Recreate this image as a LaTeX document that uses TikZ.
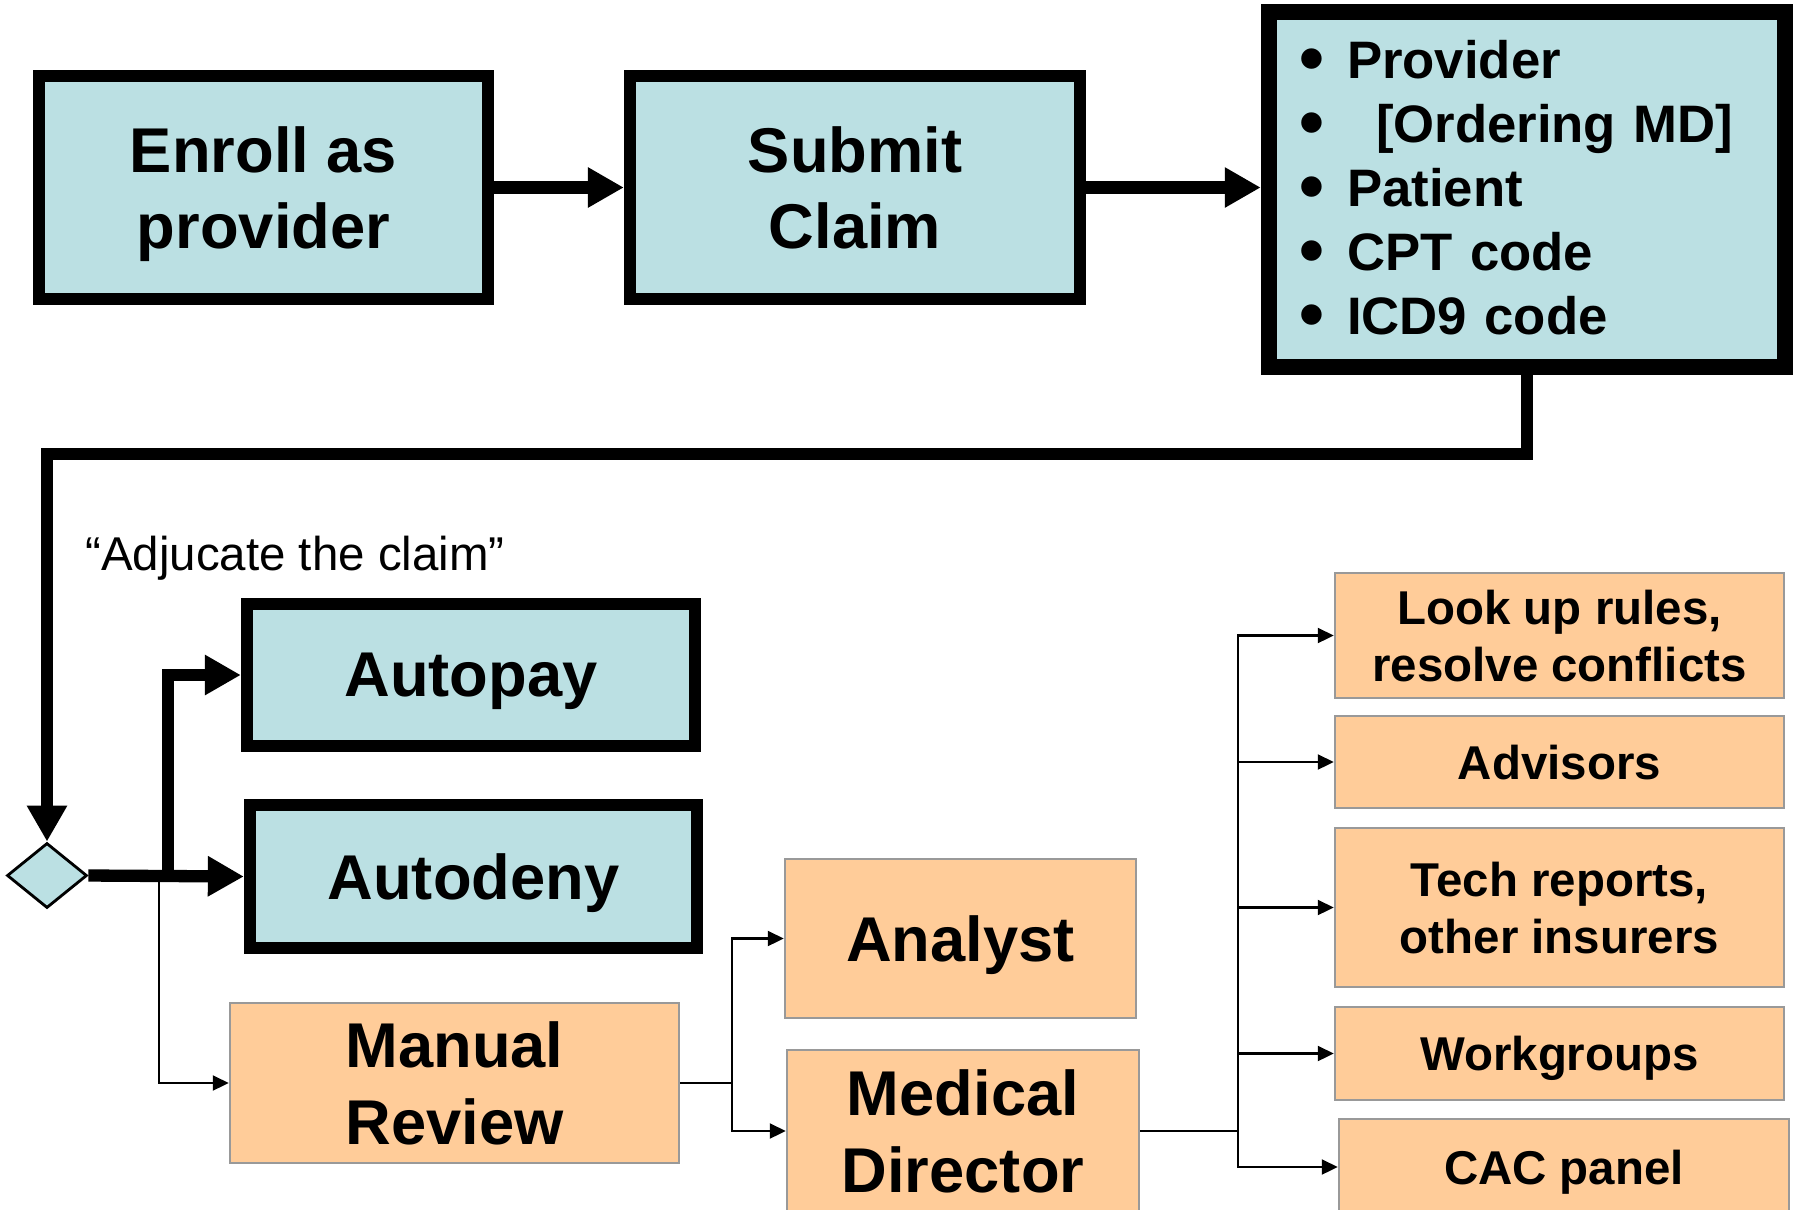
\documentclass[tikz,border=0pt]{standalone}
\usepackage{fontspec}
\setmainfont{Liberation Sans}
\usetikzlibrary{arrows.meta,shapes.geometric}

\definecolor{boxblue}{HTML}{BBE0E3}
\definecolor{boxpeach}{HTML}{FFCC99}

\newcommand{\bigbullet}{\makebox[0.48cm][l]{\raisebox{-1pt}{\scalebox{1.35}{\textbullet}}}}

\begin{document}
\begin{tikzpicture}[
        bluebox/.style={draw, line width=3.5pt, fill=boxblue, align=center, inner sep=0pt, text depth=0pt,
            font=\fontsize{18}{21.8}\selectfont\bfseries},
        peachbox/.style={draw=black!40, line width=0.7pt, fill=boxpeach, align=center, inner sep=0pt, text depth=0pt},
        bigfont/.style={font=\fontsize{18}{21.8}\selectfont\bfseries},
        smallfont/.style={font=\fontsize{13.5}{16.3}\selectfont\bfseries},
        thickflow/.style={line width=3.5pt, -{Triangle[length=0.36cm,width=0.38cm]}},
        thinflow/.style={line width=0.6pt, -{Triangle[length=0.16cm,width=0.15cm]}}
    ]
        \useasboundingbox (0,0) rectangle (17.98,-12.09);

        % top row
        \node[bluebox, minimum width=4.49cm, minimum height=2.23cm] at (2.635, -1.875)(enroll){Enroll as\\provider};
        \node[bluebox, minimum width=4.50cm, minimum height=2.23cm] at (8.55, -1.875)(submit){Submit\\Claim};
        \node[bluebox, line width=4.7pt, minimum width=5.16cm, minimum height=3.55cm, align=left, text depth=,
            text width=4.56cm, inner xsep=0.30cm, font=\fontsize{15}{18.2}\selectfont\bfseries]
            at (15.27, -1.895)(claim){%
            \bigbullet Provider\\
            \bigbullet\hspace{0.29cm}[Ordering MD]\\
            \bigbullet Patient\\
            \bigbullet CPT code\\
            \bigbullet ICD9 code};

        % adjudication
        \node[font=\fontsize{13.5}{16}\selectfont] at (2.95, -5.58)(caption){“Adjucate the claim”};
        \node[diamond, draw, line width=0.8pt, fill=boxblue, inner sep=0pt,
            minimum width=0.80cm, minimum height=0.65cm] at (0.47, -8.755)(decide){};
        \node[bluebox, minimum width=4.48cm, minimum height=1.42cm] at (4.71, -6.75)(autopay){Autopay};
        \node[bluebox, minimum width=4.47cm, minimum height=1.43cm] at (4.735, -8.765)(autodeny){Autodeny};
        \node[peachbox, bigfont, minimum width=4.49cm, minimum height=1.60cm] at (4.545, -10.83)(manual){Manual\\Review};
        \node[peachbox, bigfont, minimum width=3.51cm, minimum height=1.59cm] at (9.605, -9.385)(analyst){Analyst};
        \node[peachbox, bigfont, minimum width=3.52cm, minimum height=1.62cm] at (9.63, -11.31)(director){Medical\\Director};

        % resources
        \node[peachbox, smallfont, minimum width=4.49cm, minimum height=1.25cm] at (15.595, -6.355)(rules){Look up rules,\\resolve conflicts};
        \node[peachbox, smallfont, minimum width=4.49cm, minimum height=0.92cm] at (15.595, -7.62)(advisors){Advisors};
        \node[peachbox, smallfont, minimum width=4.49cm, minimum height=1.59cm] at (15.595, -9.075)(tech){Tech reports,\\other insurers};
        \node[peachbox, smallfont, minimum width=4.49cm, minimum height=0.93cm] at (15.595, -10.535)(workgroups){Workgroups};
        \node[peachbox, smallfont, minimum width=4.50cm, minimum height=0.96cm] at (15.64, -11.67)(cac){CAC panel};

        \coordinate (bend) at (0.47, -4.54);
        \coordinate (split) at (1.68, -8.755);
        \coordinate (tap) at (1.59, -8.755);
        \coordinate (mrfork) at (7.32, -10.83);
        \coordinate (mdfork) at (12.38, -11.31);

        \draw[thickflow] (enroll.east) -- (submit.west);
        \draw[thickflow] (submit.east) -- (submit.east -| claim.west);
        \draw[thickflow] (claim.south) |- (bend) -- (decide.north);
        \draw[thickflow] (decide.east) -- (autodeny.west);
        \draw[thickflow] (split) |- (autopay.west);
        \draw[thinflow] (tap) |- (manual.west);
        \draw[thinflow] (manual.east) -- (mrfork) |- (analyst.west);
        \draw[thinflow] (mrfork) |- (director.west);
        \draw[line width=0.6pt] (director.east) -- (mdfork);
        \draw[thinflow] (mdfork) |- (rules.west);
        \draw[thinflow] (mdfork) |- (advisors.west);
        \draw[thinflow] (mdfork) |- (tech.west);
        \draw[thinflow] (mdfork) |- (workgroups.west);
        \draw[thinflow] (mdfork) |- (cac.west);
    \end{tikzpicture}
\end{document}
